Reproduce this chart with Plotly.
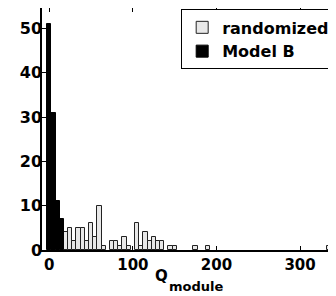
import plotly.graph_objects as go

# Histogram bin centers (bin width 5) and counts
modelb_centers = [0, 5, 10, 15]
modelb_counts = [51, 31, 11, 7]

rand_centers = [20, 25, 30, 35, 40, 45, 50, 55, 60, 65,
                75, 80, 85, 90, 95,
                105, 110, 115, 120, 125, 130, 135,
                145, 150, 175, 190, 335]
rand_counts = [4, 5, 2, 5, 5, 2, 6, 3, 10, 1,
               2, 2, 1, 3, 1,
               6, 1, 4, 2, 3, 2, 2,
               1, 1, 1, 1, 1]

y_ticks = [0, 10, 20, 30, 40, 50]
x_ticks = [0, 100, 200, 300]
bin_width = 5

FONT = "DejaVu Sans"

fig = go.Figure()
fig.add_trace(go.Bar(
    x=rand_centers, y=rand_counts, width=bin_width, name="randomized",
    marker=dict(color="#e8e8e8", line=dict(color="#222222", width=1)),
))
fig.add_trace(go.Bar(
    x=modelb_centers, y=modelb_counts, width=bin_width, name="Model B",
    marker=dict(color="black", line=dict(color="black", width=1)),
))

# page body has an 8px margin, so the figure is 8px smaller than the window
fig.update_layout(
    width=328, height=288,
    margin=dict(l=34, r=0, t=0, b=46, autoexpand=False),
    paper_bgcolor="white", plot_bgcolor="white",
    barmode="overlay", bargap=0,
    font=dict(family=FONT, size=16, color="black", weight="bold"),
    legend=dict(
        xref="container", yref="container",
        x=0.528, xanchor="left", y=0.995, yanchor="top",
        bgcolor="white", bordercolor="black", borderwidth=1,
        font=dict(family=FONT, size=16, color="black", weight="bold"),
        itemwidth=30, tracegroupgap=0,
    ),
    xaxis=dict(
        range=[-8.7, 343], tickvals=x_ticks, ticktext=[str(v) for v in x_ticks],
        ticks="inside", ticklen=4, tickcolor="black", tickwidth=1,
        showline=True, linecolor="black", linewidth=1.5, mirror="ticks",
        showgrid=False, zeroline=False, automargin=False,
        ticklabelstandoff=0,
        tickfont=dict(family=FONT, size=15, weight="bold"),
    ),
    yaxis=dict(
        range=[0, 54.6], tickvals=y_ticks, ticktext=[str(v) for v in y_ticks],
        ticks="inside", ticklen=4, tickcolor="black", tickwidth=1,
        showline=True, linecolor="black", linewidth=1.5, mirror=False,
        showgrid=False, zeroline=False, automargin=False,
        ticklabelstandoff=-5,
        tickfont=dict(family=FONT, size=16, weight="bold"),
    ),
    annotations=[
        dict(text="Q", xref="paper", yref="paper", x=0.378, y=-0.108,
             xanchor="left", yanchor="middle", showarrow=False,
             font=dict(family=FONT, size=15, color="black", weight="bold")),
        dict(text="module", xref="paper", yref="paper", x=0.425, y=-0.151,
             xanchor="left", yanchor="middle", showarrow=False,
             font=dict(family=FONT, size=13, color="black", weight="bold")),
    ],
)

fig.write_html("out.html")
